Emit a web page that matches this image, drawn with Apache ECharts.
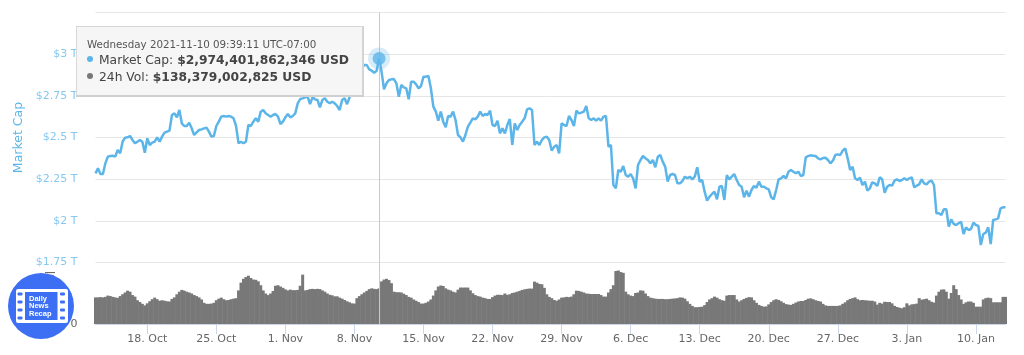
<!DOCTYPE html>
<html>
<head>
<meta charset="utf-8">
<title>Market Cap</title>
<script src="https://cdn.jsdelivr.net/npm/echarts@6/dist/echarts.min.js"></script>
<style>
  html, body { margin: 0; padding: 0; background: #fff; }
  #chart { width: 1024px; height: 355px; }
</style>
</head>
<body>
<div id="chart"></div>
<script>
// market cap in $T, one value every 6 hours from 12 Oct 18:00
const marketCap = [
  2.285,2.315,2.281,2.281,2.345,2.385,2.389,2.391,2.385,2.425,2.405,2.475,2.499,2.501,2.509,2.485,2.465,2.475,2.485,2.475,2.409,
  2.495,2.455,2.469,2.475,2.501,2.475,2.505,2.529,2.535,2.541,2.635,2.645,2.621,2.665,2.585,2.569,2.569,2.589,2.555,2.515,2.531,2.545,2.549,2.555,2.559,2.535,2.505,2.509,
  2.569,2.595,2.625,2.629,2.625,2.629,2.625,2.615,2.569,2.465,2.475,2.465,2.475,2.575,2.569,2.595,2.615,2.595,2.655,2.665,2.645,2.635,2.625,2.635,2.641,2.625,2.581,2.595,
  2.621,2.641,2.621,2.629,2.645,2.705,2.731,2.735,2.741,2.745,2.701,2.741,2.729,2.725,2.681,2.725,2.735,2.715,2.705,2.715,2.705,2.689,2.665,2.725,2.735,2.70,2.74,2.79,
  2.84,2.88,2.90,2.92,2.935,2.935,2.909,2.901,2.889,2.901,2.974,2.895,2.789,2.825,2.845,2.849,2.851,2.825,2.745,2.815,2.801,2.795,2.729,2.835,2.835,2.819,2.795,2.809,
  2.865,2.865,2.869,2.795,2.685,2.655,2.601,2.655,2.595,2.561,2.629,2.625,2.655,2.605,2.515,2.501,2.475,2.515,2.565,2.589,2.615,2.609,2.625,2.655,2.629,2.641,2.635,2.661,
  2.575,2.569,2.601,2.525,2.555,2.525,2.575,2.611,2.455,2.585,2.545,2.575,2.595,2.615,2.669,2.675,2.665,2.455,2.475,2.455,2.485,2.501,2.505,2.485,2.421,2.445,2.455,2.405,
  2.585,2.575,2.569,2.629,2.605,2.569,2.661,2.645,2.649,2.655,2.689,2.615,2.605,2.615,2.601,2.615,2.601,2.625,2.629,2.445,2.455,2.215,2.195,2.305,2.295,2.329,2.275,2.265,
  2.281,2.255,2.195,2.335,2.365,2.389,2.375,2.365,2.345,2.365,2.321,2.385,2.395,2.355,2.325,2.235,2.275,2.281,2.275,2.225,2.225,2.239,2.265,2.255,2.265,2.249,2.265,2.321,
  2.235,2.245,2.175,2.121,2.145,2.161,2.175,2.129,2.205,2.209,2.125,2.275,2.249,2.265,2.281,2.245,2.215,2.205,2.141,2.181,2.145,2.185,2.209,2.199,2.235,2.205,2.205,2.195,
  2.189,2.141,2.129,2.185,2.249,2.255,2.269,2.255,2.295,2.305,2.295,2.285,2.295,2.269,2.275,2.381,2.389,2.393,2.391,2.389,2.375,2.369,2.377,2.379,2.365,2.345,2.361,2.395,
  2.399,2.395,2.421,2.435,2.375,2.305,2.325,2.255,2.245,2.259,2.215,2.235,2.181,2.195,2.231,2.225,2.209,2.261,2.249,2.169,2.205,2.215,2.211,2.241,2.249,2.239,2.245,2.255,
  2.245,2.255,2.261,2.201,2.211,2.219,2.249,2.225,2.219,2.235,2.241,2.215,2.045,2.045,2.035,2.069,2.069,1.965,2.009,1.981,1.975,1.985,1.995,1.921,1.961,1.945,1.951,1.989,
  1.975,1.969,1.855,1.921,1.929,1.961,1.861,2.005,2.009,2.015,2.075,2.081,2.081
];

// 24h volume in $B, same 6 hour steps
const volume = [
  103,103,104,103,105,110,108,105,103,101,108,115,122,129,125,112,106,92,85,78,72,
  80,88,96,102,96,90,92,90,88,87,97,103,115,125,132,129,125,122,118,112,108,103,95,82,78,78,79,82,
  92,98,102,96,92,93,96,98,100,130,160,175,182,187,178,172,171,165,150,130,118,112,118,128,148,150,145,140,
  134,130,133,131,131,132,148,191,130,132,135,136,135,136,135,130,125,118,113,111,107,107,102,98,93,88,
  84,80,79,100,108,115,122,128,135,138,136,135,138,165,172,175,170,158,125,123,123,122,117,112,105,102,95,90,
  85,79,79,82,87,95,110,130,145,149,147,138,133,130,125,122,133,141,141,141,141,130,119,112,108,106,102,100,
  97,97,104,110,113,113,112,118,113,115,120,122,125,128,132,134,136,137,137,164,160,155,154,140,115,105,100,93,
  90,95,102,103,105,104,106,115,129,128,125,122,118,117,116,116,116,116,112,106,106,122,135,150,205,207,201,198,
  125,115,110,108,120,122,130,129,118,108,102,100,98,97,97,97,96,96,97,98,99,100,103,102,98,88,78,70,65,65,
  66,67,73,85,95,100,106,102,96,92,90,110,112,112,112,95,87,92,97,101,104,103,92,82,74,70,67,68,
  76,85,92,96,93,88,82,77,75,74,78,83,87,89,89,93,98,99,96,92,89,87,78,72,70,70,70,70,
  70,72,78,84,92,97,100,103,96,92,93,92,91,90,90,87,75,82,79,86,85,85,80,70,66,63,61,65,
  80,72,76,77,79,100,94,96,98,92,86,83,110,125,133,134,125,98,120,150,135,112,95,78,84,87,87,82,
  67,67,67,95,100,102,100,84,84,84,84,105,105
];

const tickDates = ['2021-10-18','2021-10-25','2021-11-01','2021-11-08','2021-11-15','2021-11-22','2021-11-29','2021-12-06','2021-12-13','2021-12-20','2021-12-27','2022-01-03','2022-01-10'];
const tickLabels = ['18. Oct','25. Oct','1. Nov','8. Nov','15. Nov','22. Nov','29. Nov','6. Dec','13. Dec','20. Dec','27. Dec','3. Jan','10. Jan'];

const hoverIndex = 115;
const hoverDate = 'Wednesday 2021-11-10 09:39:11 UTC-07:00';
const hoverCap = '$2,974,401,862,346 USD';
const hoverVol = '$138,379,002,825 USD';

const BLUE = '#5cb5e8';
const BLUE_LABEL = '#86c8f0';
const FONT = '"DejaVu Sans", sans-serif';

// 6 hourly stamps, only the midnight ones get a tick
const categories = [];
const start = Date.UTC(2021, 9, 12, 18);
for (let i = 0; i < marketCap.length; i++) {
  categories.push(new Date(start + i * 6 * 3600 * 1000).toISOString().slice(0, 16));
}
const isTick = (index, value) => tickDates.some(d => value === d + 'T00:00');

const myChart = echarts.init(document.getElementById('chart'));
myChart.setOption({
  animation: false,
  backgroundColor: '#fff',
  textStyle: { fontFamily: FONT },
  tooltip: {
    trigger: 'item',
    alwaysShowContent: true,
    showDelay: 0,
    transitionDuration: 0,
    position: [76, 26],
    padding: 0,
    borderWidth: 0,
    backgroundColor: 'transparent',
    extraCssText: 'box-shadow:none;',
    formatter: function () {
      const dot = c => '<span style="display:inline-block;width:6px;height:6px;border-radius:3px;margin-right:6px;vertical-align:2px;background:' + c + '"></span>';
      return '<div style="box-sizing:border-box;width:288px;height:71px;padding:10px 0 0 10px;background:#f6f6f6;border:1px solid #d8d8d8;border-bottom:2px solid #cfcfcf;border-right:2px solid #d4d4d4;color:#444;font-family:' + FONT.replace(/"/g, "'") + ';white-space:nowrap;">'
        + '<div style="font-size:10.3px;line-height:15px;color:#555;">' + hoverDate + '</div>'
        + '<div style="font-size:12.3px;line-height:17px;">' + dot(BLUE) + 'Market Cap: <b>' + hoverCap + '</b></div>'
        + '<div style="font-size:12.3px;line-height:17px;">' + dot('#777') + '24h Vol: <b>' + hoverVol + '</b></div>'
        + '</div>';
    }
  },
  grid: [
    { left: 95.5, right: 18.5, top: 12.5, height: 250 },
    { left: 95.5, right: 18.5, top: 262.5, height: 61.5 }
  ],
  xAxis: [
    {
      type: 'category', gridIndex: 0, data: categories, boundaryGap: false,
      axisLine: { show: false }, axisTick: { show: false }, axisLabel: { show: false }, splitLine: { show: false }
    },
    {
      type: 'category', gridIndex: 1, data: categories, boundaryGap: false,
      axisLine: { lineStyle: { color: '#ccd6eb' } },
      axisTick: { interval: isTick, length: 10, lineStyle: { color: '#ccd6eb' } },
      axisLabel: {
        interval: isTick, color: '#666', fontSize: 11, margin: 10,
        formatter: value => tickLabels[tickDates.indexOf(value.slice(0, 10))]
      },
      splitLine: { show: false }
    }
  ],
  yAxis: [
    {
      type: 'value', gridIndex: 0, min: 1.75, max: 3.25, interval: 0.25,
      name: 'Market Cap', nameLocation: 'middle', nameGap: 62,
      nameTextStyle: { color: BLUE, fontSize: 12.5 },
      axisLine: { show: false }, axisTick: { show: false },
      axisLabel: {
        color: BLUE_LABEL, fontSize: 11, margin: 18,
        formatter: v => v > 3 ? '' : '$' + v + ' T'
      },
      splitLine: { lineStyle: { color: '#e6e6e6' } }
    },
    {
      type: 'value', gridIndex: 1, min: 0, max: 238, interval: 238,
      name: '24h Vol', nameLocation: 'middle', nameGap: 38,
      nameTextStyle: { color: '#666', fontSize: 12 },
      axisLine: { show: false }, axisTick: { show: false },
      axisLabel: { color: '#666', fontSize: 11, margin: 18, formatter: v => v === 0 ? '0' : '' },
      splitLine: { show: false }
    }
  ],
  series: [
    {
      name: 'Market Cap', type: 'line', xAxisIndex: 0, yAxisIndex: 0, data: marketCap,
      showSymbol: false, sampling: null, z: 3,
      lineStyle: { color: BLUE, width: 2.5 }, itemStyle: { color: BLUE },
      emphasis: { disabled: true },
      markLine: {
        silent: true, symbol: 'none', label: { show: false },
        lineStyle: { color: '#c9c9c9', width: 1, type: 'solid' },
        data: [{ xAxis: categories[hoverIndex] }]
      },
      markPoint: {
        silent: true, symbol: 'circle', label: { show: false },
        data: [
          { coord: [categories[hoverIndex], marketCap[hoverIndex]], symbolSize: 22, itemStyle: { color: BLUE, opacity: 0.25 } }
        ]
      }
    },
    {
      // the hovered point, showTip needs a real symbol to anchor on
      name: 'Hover', type: 'scatter', xAxisIndex: 0, yAxisIndex: 0, z: 5,
      data: [[categories[hoverIndex], marketCap[hoverIndex]]],
      symbolSize: 13, itemStyle: { color: BLUE },
      emphasis: { disabled: true }
    },
    {
      name: '24h Vol', type: 'bar', xAxisIndex: 1, yAxisIndex: 1, data: volume,
      barWidth: 3, z: 2,
      itemStyle: { color: '#787878' },
      emphasis: { disabled: true },
      markLine: {
        silent: true, symbol: 'none', label: { show: false },
        lineStyle: { color: '#c9c9c9', width: 1, type: 'solid' },
        data: [{ xAxis: categories[hoverIndex] }]
      }
    }
  ],
  // station logo sitting over the lower left corner
  graphic: [
    { type: 'circle', z: 100, shape: { cx: 41, cy: 306, r: 33 }, style: { fill: '#3d6ff5' } },
    { type: 'rect', z: 101, shape: { x: 16, y: 289, width: 52, height: 34, r: 2 }, style: { fill: '#fff' } },
    { type: 'rect', z: 102, shape: { x: 25, y: 292, width: 32.5, height: 28 }, style: { fill: '#3d6ff5' } }
  ].concat(
    [294, 302, 310, 318].flatMap(y => [
      { type: 'rect', z: 102, shape: { x: 17.5, y: y - 1.5, width: 5, height: 3, r: 1 }, style: { fill: '#3d6ff5' } },
      { type: 'rect', z: 102, shape: { x: 60, y: y - 1.5, width: 5, height: 3, r: 1 }, style: { fill: '#3d6ff5' } }
    ]),
    ['Daily', 'News', 'Recap'].map((t, i) => ({
      type: 'text', z: 103, x: 29, y: 298.5 + i * 7.8,
      style: { text: t, fill: '#fff', font: 'bold 7.5px "Liberation Sans", sans-serif', textVerticalAlign: 'middle' }
    }))
  )
});

myChart.dispatchAction({ type: 'showTip', seriesIndex: 1, dataIndex: 0 });
</script>
</body>
</html>
